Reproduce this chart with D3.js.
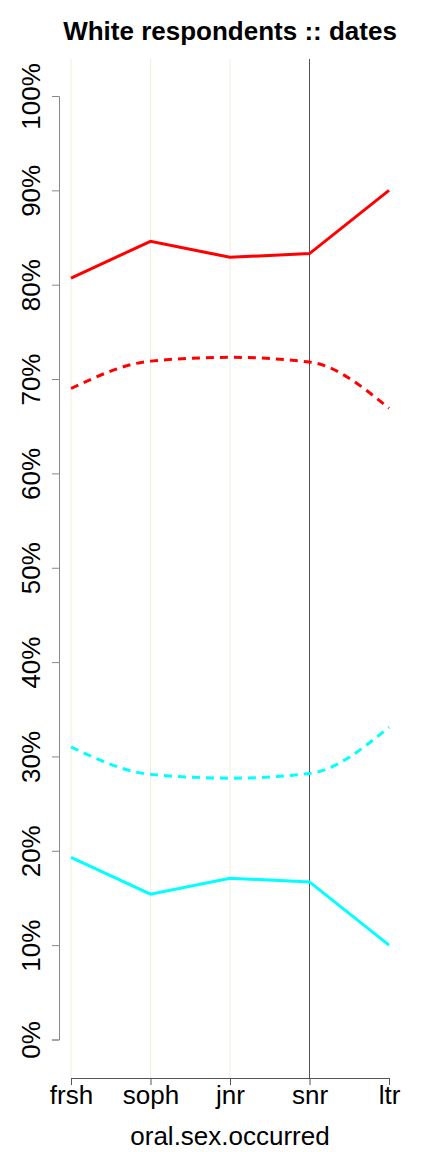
<!DOCTYPE html>
<html><head><meta charset="utf-8">
<script src="https://cdn.jsdelivr.net/npm/d3@7"></script>
<style>body{margin:0;background:#fff}svg{display:block}text{font-family:"Liberation Sans",Arial,sans-serif}</style>
</head><body><div id="chart"></div>
<script>
const categories = ["frsh","soph","jnr","snr","ltr"];
const redSolid   = [80.7, 84.6, 82.9, 83.3, 90.0];
const redDotted  = [69.0, 71.9, 72.3, 71.8, 66.9];
const cyanDotted = [31.0, 28.1, 27.7, 28.2, 33.1];
const cyanSolid  = [19.3, 15.4, 17.1, 16.7, 10.0];
const yTicks = [0,10,20,30,40,50,60,70,80,90,100];
const lightRefs = ["frsh","soph","jnr"];
const darkRefs = ["snr"];

const W = 432, H = 1152;
const FONT = '"Liberation Sans",Arial,sans-serif';
const svg = d3.select("#chart").append("svg").attr("width", W).attr("height", H);
const x = d3.scalePoint().domain(categories).range([71, 389]);
const y = d3.scaleLinear().domain([0, 100]).range([1039.5, 96]);

svg.append("text").attr("x", 230).attr("y", 40).attr("text-anchor", "middle")
  .style("font-weight", "bold").style("font-size", "26px").text("White respondents :: dates");

// reference lines
lightRefs.forEach(c => svg.append("line").attr("x1", x(c)).attr("x2", x(c)).attr("y1", 59).attr("y2", 1078)
  .attr("stroke", "#efeedf").attr("stroke-width", 1));
darkRefs.forEach(c => svg.append("line").attr("x1", x(c)).attr("x2", x(c)).attr("y1", 59).attr("y2", 1078)
  .attr("stroke", "#555").attr("stroke-width", 1));

// y axis
const ya = svg.append("g").attr("transform", "translate(59,0)")
  .call(d3.axisLeft(y).tickValues(yTicks).tickSize(7).tickFormat(d => d + "%"));
ya.select(".domain").attr("stroke", "#888");
ya.selectAll(".tick line").attr("stroke", "#888");
ya.selectAll(".tick text").attr("transform", "rotate(-90)").attr("x", 0).attr("y", -19)
  .attr("dy", 0).attr("text-anchor", "middle").style("font-size", "26px").attr("fill", "#000")
  .style("font-family", FONT);

// x axis
const xa = svg.append("g").attr("transform", "translate(0,1078)")
  .call(d3.axisBottom(x).tickSize(7).tickSizeOuter(0));
xa.select(".domain").attr("stroke", "#555");
xa.selectAll(".tick line").attr("stroke", "#555");
xa.selectAll(".tick text").attr("y", 26).attr("dy", 0).style("font-size", "26px").attr("fill", "#000")
  .style("font-family", FONT);

svg.append("text").attr("x", 230).attr("y", 1145).attr("text-anchor", "middle")
  .style("font-size", "26px").text("oral.sex.occurred");

const lineStraight = d3.line().x((d, i) => x(categories[i])).y(d => y(d));
const lineCurve = d3.line().x((d, i) => x(categories[i])).y(d => y(d)).curve(d3.curveMonotoneX);

svg.append("path").datum(redSolid).attr("d", lineStraight).attr("fill", "none")
  .attr("stroke", "#ff0000").attr("stroke-width", 3);
svg.append("path").datum(cyanSolid).attr("d", lineStraight).attr("fill", "none")
  .attr("stroke", "#00ffff").attr("stroke-width", 3);
svg.append("path").datum(redDotted).attr("d", lineCurve).attr("fill", "none")
  .attr("stroke", "#ff0000").attr("stroke-width", 3).attr("stroke-dasharray", "8,6");
svg.append("path").datum(cyanDotted).attr("d", lineCurve).attr("fill", "none")
  .attr("stroke", "#00ffff").attr("stroke-width", 3).attr("stroke-dasharray", "8,6");
</script></body></html>
